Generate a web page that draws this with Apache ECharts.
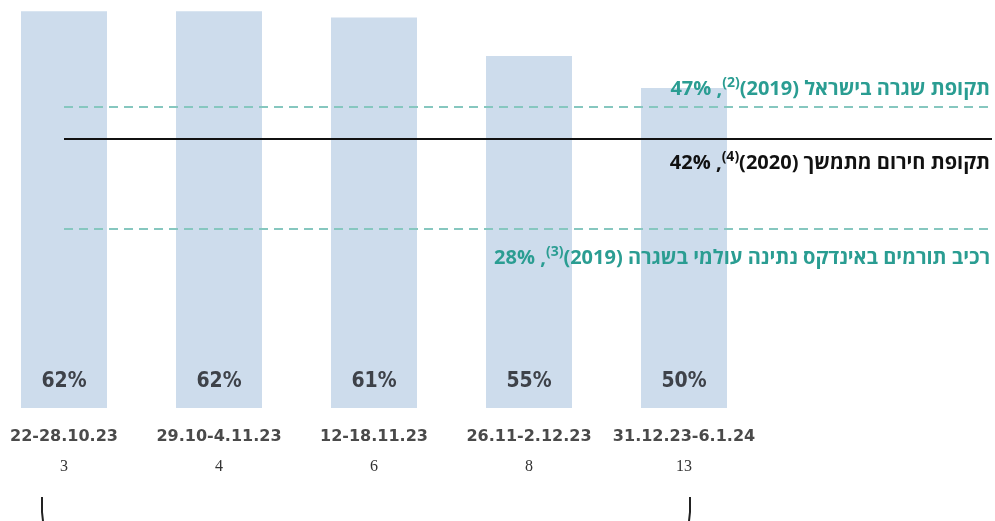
<!DOCTYPE html>
<html>
<head>
<meta charset="utf-8">
<script src="https://cdn.jsdelivr.net/npm/echarts@6/dist/echarts.min.js"></script>
<style>html,body{margin:0;padding:0;background:#fff}#c{width:995px;height:521px}</style>
</head>
<body>
<div id="c"></div>
<script>
const categories = ['22-28.10.23', '29.10-4.11.23', '12-18.11.23', '26.11-2.12.23', '31.12.23-6.1.24'];
const weeks = ['3', '4', '6', '8', '13'];
const values = [62, 62, 61, 55, 50];
const refValues = [47, 42, 28];
const refTexts = ['תקופת שגרה בישראל', 'תקופת חירום מתמשך', 'רכיב תורמים באינדקס נתינה עולמי בשגרה'];
const refYears = ['(2019)', '(2020)', '(2019)'];
const refNotes = ['(2)', '(4)', '(3)'];

const TEAL = '#2a9d92';
const HEB = '"Open Sans", "Liberation Sans", "DejaVu Sans", sans-serif';
const gridLeft = 64, gridRight = 3, W = 995, step = 155;
const xMax = (W - gridLeft - gridRight) / step;

function refLabel(i, color) {
  return {
    show: true,
    formatter: '{v|' + refValues[i] + '% ,}{s|' + refNotes[i] + '}{t|' + refYears[i] + ' }{h|' + refTexts[i] + '}',
    rich: {
      v: {fontSize: 20, fontWeight: 'bold', color: color, fontFamily: HEB, lineHeight: 26},
      s: {fontSize: 14, fontWeight: 'bold', color: color, fontFamily: HEB, lineHeight: 15, verticalAlign: 'top'},
      t: {fontSize: 20, fontWeight: 'bold', color: color, fontFamily: HEB, lineHeight: 26},
      h: {fontSize: 20, fontWeight: 'bold', color: color, fontFamily: HEB, lineHeight: 26}
    }
  };
}

const chart = echarts.init(document.getElementById('c'), null, {renderer: 'canvas'});
chart.setOption({
  animation: false,
  backgroundColor: '#fff',
  grid: {left: gridLeft, right: gridRight, top: 8, bottom: 113},
  xAxis: {
    type: 'value', min: 0, max: xMax, interval: 1,
    axisLine: {show: false}, axisTick: {show: false}, splitLine: {show: false},
    axisLabel: {
      margin: 14, showMaxLabel: false,
      formatter: function (v) {
        const i = Math.round(v);
        if (Math.abs(v - i) > 1e-6 || !categories[i]) return '';
        return '{d|' + categories[i] + '}\n{n|' + weeks[i] + '}';
      },
      rich: {
        d: {fontSize: 16, fontWeight: 'bold', color: '#4a4a4a', fontFamily: '"DejaVu Sans", sans-serif', lineHeight: 30},
        n: {fontSize: 16, color: '#333', fontFamily: '"Liberation Serif", serif', lineHeight: 30}
      }
    }
  },
  yAxis: {type: 'value', min: 0, max: 62.5, show: false},
  series: [{
    type: 'bar',
    clip: false,
    barWidth: 86,
    data: values.map((v, i) => [i, v]),
    itemStyle: {color: '#cddcec'},
    label: {
      show: true, position: 'insideBottom', distance: 16,
      formatter: p => p.value[1] + '%',
      fontSize: 21, fontWeight: 'bold', color: '#3e4249',
      fontFamily: '"DejaVu Sans Condensed", "Liberation Sans Narrow", sans-serif'
    },
    markLine: {
      silent: true, symbol: 'none', animation: false,
      data: [
        {yAxis: refValues[0], lineStyle: {color: '#86c7bf', width: 2, type: [9, 6]},
          label: Object.assign(refLabel(0, TEAL), {position: 'insideEndTop', distance: [2, 5]})},
        {yAxis: refValues[1], lineStyle: {color: '#111', width: 2, type: 'solid'},
          label: Object.assign(refLabel(1, '#111'), {position: 'insideEndBottom', distance: [2, 11]})},
        {yAxis: refValues[2], lineStyle: {color: '#86c7bf', width: 2, type: [9, 6]},
          label: Object.assign(refLabel(2, TEAL), {position: 'insideEndBottom', distance: [2, 16]})}
      ]
    }
  }],
  graphic: [
    {type: 'polyline', shape: {points: [[42, 497], [42, 512], [43, 521]]}, style: {stroke: '#222', lineWidth: 2, fill: null}},
    {type: 'polyline', shape: {points: [[690, 497], [690, 512], [689, 521]]}, style: {stroke: '#222', lineWidth: 2, fill: null}}
  ]
});
</script>
</body>
</html>
